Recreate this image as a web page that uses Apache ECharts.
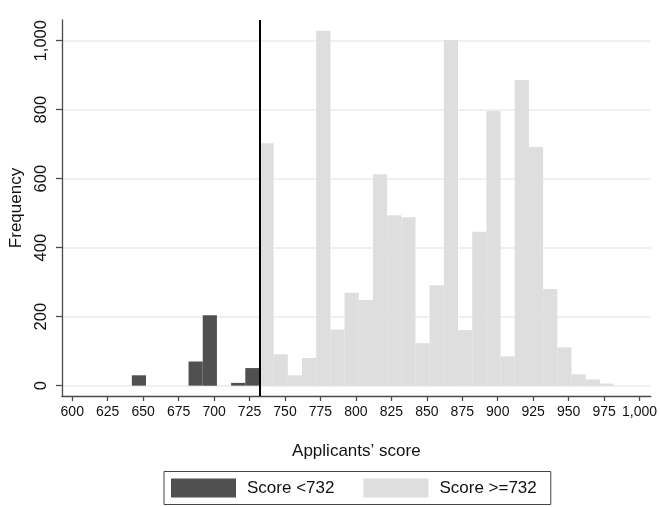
<!DOCTYPE html>
<html>
<head>
<meta charset="utf-8">
<script src="https://cdn.jsdelivr.net/npm/echarts@6/dist/echarts.min.js"></script>
<style>
  html, body { margin: 0; padding: 0; background: #fff; }
  #chart { width: 660px; height: 507px; }
</style>
</head>
<body>
<div id="chart"></div>
<script>
// ---- data ----
const binWidth = 10;
const lowBinStart = [642, 682, 692, 712, 722];
const lowFreq = [30, 70, 204, 8, 51];
const highBinStart = [732, 742, 752, 762, 772, 782, 792, 802, 812, 822, 832, 842, 852,
                      862, 872, 882, 892, 902, 912, 922, 932, 942, 952, 962, 972];
const highFreq = [703, 91, 30, 80, 1029, 163, 269, 248, 613, 494, 488, 123, 291,
                  1002, 161, 446, 796, 85, 886, 692, 280, 111, 33, 18, 6];
const xTicks = [600, 625, 650, 675, 700, 725, 750, 775, 800, 825, 850, 875, 900, 925, 950, 975, 1000];
const yTicks = [0, 200, 400, 600, 800, 1000];
const cutoff = 732;
const seriesNames = ['Score <732', 'Score >=732'];
const xTitle = 'Applicants\u2019 score';
const yTitle = 'Frequency';

// ---- build ----
const toRows = (starts, freqs) => starts.map((s, i) => [s, s + binWidth, freqs[i]]);
const fmt = v => v.toLocaleString('en-US');
const FONT = "'Liberation Sans', Arial, Helvetica, sans-serif";
const AXIS = '#4a4a4a';

function renderBar(params, api) {
  const p0 = api.coord([api.value(0), api.value(2)]);
  const p1 = api.coord([api.value(1), 0]);
  return {
    type: 'rect',
    shape: { x: p0[0], y: p0[1], width: p1[0] - p0[0], height: p1[1] - p0[1] },
    style: api.style()
  };
}

const chart = echarts.init(document.getElementById('chart'), null, { renderer: 'canvas' });
chart.setOption({
  animation: false,
  backgroundColor: '#ffffff',
  grid: { left: 57.7, right: 6, top: 20, bottom: 111, containLabel: false },
  xAxis: {
    type: 'value',
    min: 592.7, max: 1007.9,
    name: xTitle,
    nameLocation: 'middle',
    nameGap: 47,
    nameTextStyle: { fontFamily: FONT, fontSize: 17, color: '#111' },
    axisLine: { show: true, onZero: false, lineStyle: { color: AXIS, width: 1.3 } },
    axisTick: { show: true, length: 5, customValues: xTicks, lineStyle: { color: AXIS, width: 1.3 } },
    axisLabel: { customValues: xTicks, margin: 9, fontFamily: FONT, fontSize: 14, color: '#111',
                 formatter: v => fmt(v) },
    splitLine: { show: false }
  },
  yAxis: {
    type: 'value',
    min: -30, max: 1060,
    name: yTitle,
    nameLocation: 'middle',
    nameRotate: 90,
    nameGap: 31,
    nameTextStyle: { fontFamily: FONT, fontSize: 17, color: '#111' },
    axisLine: { show: true, onZero: false, lineStyle: { color: AXIS, width: 1.3 } },
    axisTick: { show: true, length: 6, customValues: yTicks, lineStyle: { color: AXIS, width: 1.3 } },
    axisLabel: { customValues: yTicks, rotate: 90, margin: 12, fontFamily: FONT, fontSize: 16.5, color: '#111',
                 formatter: v => fmt(v) },
    splitLine: { show: true, lineStyle: { color: '#eaf2f3', width: 2 } }
  },
  legend: {
    data: [{ name: seriesNames[0], icon: 'rect' }, { name: seriesNames[1], icon: 'rect' }],
    left: 164, top: 471.5,
    orient: 'horizontal',
    itemWidth: 65, itemHeight: 19, itemGap: 29,
    padding: [7, 14, 7, 7],
    borderColor: '#444', borderWidth: 1,
    backgroundColor: '#fff',
    textStyle: { fontFamily: FONT, fontSize: 17, color: '#111', padding: [0, 0, 0, 6] }
  },
  series: [
    {
      name: seriesNames[0],
      type: 'custom',
      renderItem: renderBar,
      encode: { x: [0, 1], y: 2 },
      itemStyle: { color: '#505050' },
      data: toRows(lowBinStart, lowFreq),
      z: 3
    },
    {
      name: seriesNames[1],
      type: 'custom',
      renderItem: renderBar,
      encode: { x: [0, 1], y: 2 },
      itemStyle: { color: '#dedede' },
      data: toRows(highBinStart, highFreq),
      z: 2,
      markLine: {
        silent: true,
        symbol: ['none', 'none'],
        label: { show: false },
        lineStyle: { color: '#000', width: 2, type: 'solid' },
        data: [{ xAxis: cutoff }],
        z: 10
      }
    }
  ]
});
</script>
</body>
</html>
